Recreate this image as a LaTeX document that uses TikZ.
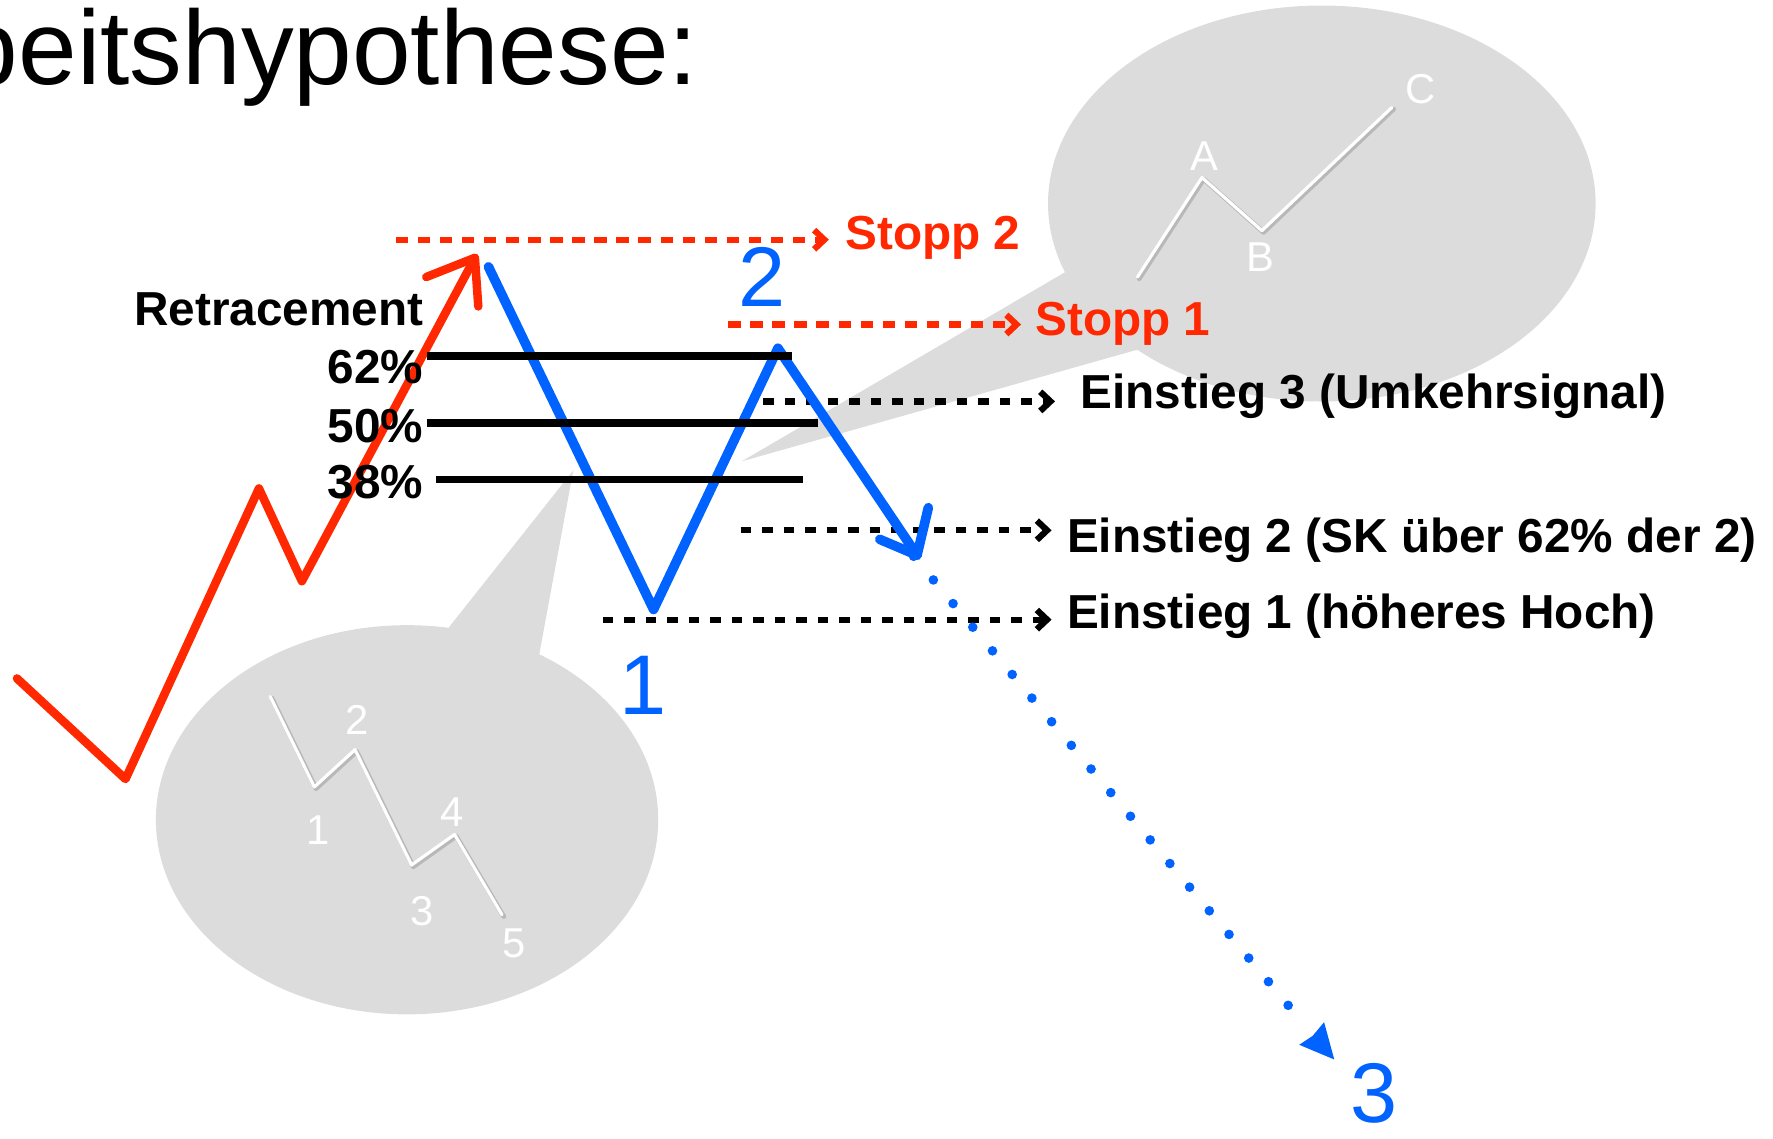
\documentclass[tikz,border=0pt]{standalone}
\usepackage{fontspec}
\setmainfont{Liberation Sans}
\usetikzlibrary{arrows.meta}
\definecolor{srot}{RGB}{255,40,0}
\definecolor{sblau}{RGB}{0,98,255}
\definecolor{blase}{RGB}{220,220,220}
\begin{document}
\begin{tikzpicture}[x=0.01cm,y=-0.01cm,
 lbl/.style={inner sep=0pt, font=\fontsize{12}{14}\selectfont\bfseries},
 pct/.style={lbl, anchor=base east},
 num/.style={inner sep=0pt, anchor=base, text=sblau, font=\fontsize{21.3}{24}\selectfont},
 wlbl/.style={inner sep=0pt, text=white, font=\fontsize{10.5}{12}\selectfont},
 rdash/.style={srot, line width=0.055cm, dash pattern=on 0.11cm off 0.085cm, -{Straight Barb[length=0.09cm,width=0.17cm]}},
 kdash/.style={black, line width=0.055cm, dash pattern=on 0.095cm off 0.095cm, -{Straight Barb[length=0.09cm,width=0.17cm]}},
 retr/.style={black, line width=0.065cm},
 rpen/.style={line width=0.075cm, line join=round, line cap=round},
 bpen/.style={line width=0.085cm, line join=round, line cap=round},
 wave/.style={white, line width=0.028cm, line join=round, line cap=round},
 waveshadow/.style={black!28, line width=0.042cm, line join=round, line cap=round},
 dotsline/.style={sblau, line width=0.085cm, line cap=round, dash pattern=on 0pt off 0.272cm},
]
\useasboundingbox (0,0) rectangle (1568,1007);
\clip (0,0) rectangle (1568,1007);

% ---- speech bubbles ----
\fill[blase] (360,725) ellipse [x radius=2.22cm, y radius=1.72cm];
\fill[blase] (507,416) -- (381,575) -- (470,616) -- cycle;
\fill[blase] (1169,180) ellipse [x radius=2.42cm, y radius=1.75cm];
\fill[blase] (656,408) -- (950,236) -- (1060,294) -- cycle;

% wave A-B-C
\draw[waveshadow, shift={(1.5,1.5)}] (1006,245) -- (1063,157) -- (1116,204) -- (1231,95);
\draw[wave] (1006,245) -- (1063,157) -- (1116,204) -- (1231,95);
\node[wlbl] (lA) at (1065,138) {A};
\node[wlbl] (lB) at (1115,227) {B};
\node[wlbl] (lC) at (1256,79) {C};

% wave 1-5
\draw[waveshadow, shift={(1.5,1.5)}] (239,616) -- (278,696) -- (314,663) -- (364,765) -- (402,738) -- (444,809);
\draw[wave] (239,616) -- (278,696) -- (314,663) -- (364,765) -- (402,738) -- (444,809);
\node[wlbl] (w1) at (281,734) {1};
\node[wlbl] (w2) at (316,637) {2};
\node[wlbl] (w3) at (373,806) {3};
\node[wlbl] (w4) at (400,718) {4};
\node[wlbl] (w5) at (455,834) {5};

% ---- title ----
\node[anchor=base east, inner sep=0pt, font=\fontsize{26.5}{30}\selectfont] (title) at (618,75) {Arbeitshypothese:};

% ---- coordinates ----
\coordinate (r0) at (15,600);
\coordinate (r1) at (111,689);
\coordinate (r2) at (229,432);
\coordinate (r3) at (267,514);
\coordinate (rtip) at (420,228);
\coordinate (rb1) at (377,245);
\coordinate (rb2) at (423,271);
\coordinate (b0) at (432,236);
\coordinate (b1) at (578,539);
\coordinate (b2) at (688,308);
\coordinate (btip) at (811,491);
\coordinate (bb1) at (778,477);
\coordinate (bb2) at (821,449);
\coordinate (d0) at (808,492);
\coordinate (d1) at (1150,902);
\coordinate (dtip) at (1180,937);

% ---- dashed arrows ----
\coordinate (s2a) at (350,212);
\coordinate (s2b) at (733,212);
\coordinate (s1a) at (644,287);
\coordinate (s1b) at (903,287);
\coordinate (e3a) at (675,355);
\coordinate (e3b) at (933,355);
\coordinate (e2a) at (655,469);
\coordinate (e2b) at (930,469);
\coordinate (e1a) at (533,548);
\coordinate (e1b) at (930,548);
\draw[rdash] (s2a) -- (s2b);
\draw[rdash] (s1a) -- (s1b);
\draw[kdash] (e3a) -- (e3b);
\draw[kdash] (e2a) -- (e2b);
\draw[kdash] (e1a) -- (e1b);

% ---- red impulse ----
\draw[rpen, srot] (r0) -- (r1) -- (r2) -- (r3) -- (rtip);
\draw[rpen, srot] (rb1) -- (rtip) -- (rb2);

% ---- blue correction ----
\draw[bpen, sblau] (b0) -- (b1) -- (b2) -- (btip);
\draw[bpen, sblau] (bb1) -- (btip) -- (bb2);
\draw[dotsline] (d0) -- (d1);
\fill[sblau] (dtip) -- (1149,924) -- (1161,916) -- (1171,904) -- cycle;

% ---- retracement levels ----
\coordinate (l62a) at (378,315);
\coordinate (l62b) at (700,315);
\coordinate (l50a) at (378,374);
\coordinate (l50b) at (723,374);
\coordinate (l38a) at (386,424);
\coordinate (l38b) at (710,424);
\draw[retr] (l62a) -- (l62b);
\draw[retr] (l50a) -- (l50b);
\draw[retr] (l38a) -- (l38b);

% ---- labels ----
\node[pct] (retr) at (375,288) {Retracement};
\node[pct] (p62) at (375,339) {62\%};
\node[pct] (p50) at (375,391) {50\%};
\node[pct] (p38) at (375,441) {38\%};

\node[lbl, anchor=base west, text=srot] (st2) at (747,221) {Stopp 2};
\node[lbl, anchor=base west, text=srot] (st1) at (915,297) {Stopp 1};
\node[lbl, anchor=base west] (ein3) at (955,361) {Einstieg 3 (Umkehrsignal)};
\node[lbl, anchor=base west] (ein2) at (943,489) {Einstieg 2 (SK über 62\% der 2)};
\node[lbl, anchor=base west] (ein1) at (943,556) {Einstieg 1 (höheres Hoch)};

\node[num] (n2) at (674,271) {2};
\node[num] (n1) at (569,632) {1};
\node[num] (n3) at (1215,993) {3};
\end{tikzpicture}
\end{document}
